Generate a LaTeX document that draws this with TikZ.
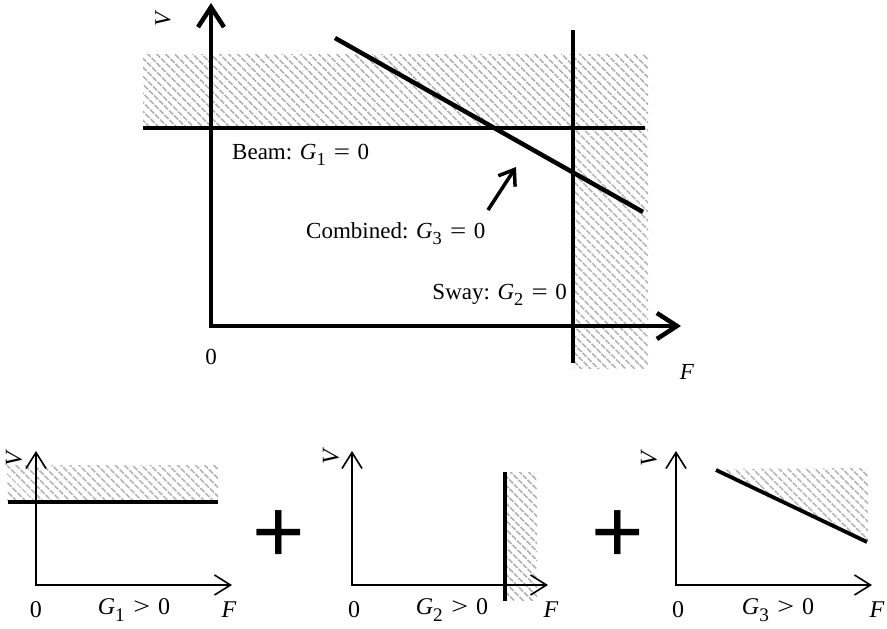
\documentclass[tikz,border=0pt]{standalone}
\usepackage{fontspec}
\setmainfont{Liberation Serif}
\setsansfont{Liberation Sans}
\usepackage{graphicx}
\usetikzlibrary{arrows.meta,patterns.meta}
\newcommand\Gs[1]{\textit{G}\raisebox{-0.28em}{\scalebox{0.8}{#1}}}
\newcommand\rel[1]{\hspace{0.36em}\scalebox{1.25}[1]{#1}\hspace{0.32em}}
\begin{document}
\begin{tikzpicture}[x=1pt,y=-1pt,
  hatch/.style={pattern={Lines[angle=-45,distance=6.4pt,line width=2pt]},pattern color=gray!60},
  bigaxis/.style={line width=4.5pt,line join=miter,{Straight Barb[length=20pt,width=26pt]}-{Straight Barb[length=20pt,width=26pt]}},
  smallaxis/.style={line width=1.6pt,line join=miter,{Straight Barb[length=16pt,width=20pt]}-{Straight Barb[length=16pt,width=20pt]}},
  boundary/.style={line width=4.5pt},
  sboundary/.style={line width=3.8pt},
  ptr/.style={line width=3.5pt,-{Straight Barb[length=14pt,width=20pt]}},
  lbl/.style={font=\fontsize{23}{27}\selectfont,inner sep=0pt},
  slbl/.style={font=\fontsize{24}{28}\selectfont,inner sep=0pt},
  plus/.style={font=\fontsize{90}{90}\selectfont\sffamily,inner sep=0pt}]
\useasboundingbox (0,0) rectangle (887,629);
% ---------- top diagram ----------
\fill[hatch] (143,54) rectangle (648,128);
\fill[hatch] (573,128) rectangle (648,368);
\coordinate (O) at (211,326);
\coordinate (Yt) at (211,3);
\coordinate (Xt) at (681,326);
\draw[bigaxis] (Yt) -- (O) -- (Xt);
\coordinate (b1) at (143,128); \coordinate (b2) at (645,128);
\draw[boundary] (b1) -- (b2);
\coordinate (s1) at (573,30); \coordinate (s2) at (573,363);
\draw[boundary] (s1) -- (s2);
\coordinate (c1) at (335,38); \coordinate (c2) at (643,212);
\draw[boundary] (c1) -- (c2);
\coordinate (p1) at (488,210); \coordinate (p2) at (516,167);
\draw[ptr] (p1) -- (p2);
\node[lbl,anchor=base west] (beam) at (232,159) {Beam: \Gs{1}\rel{=}0};
\node[lbl,anchor=base west] (comb) at (306,238) {Combined: \Gs{3}\rel{=}0};
\node[lbl,anchor=base east] (sway) at (567,299) {Sway: \Gs{2}\rel{=}0};
\node[lbl] (zero) at (211,357) {0};
\node[lbl] (F) at (687,372) {\textit{F}};
\node[lbl,rotate=90] (V) at (163,18) {\textit{V}};
% ---------- panel 1 ----------
\fill[hatch] (7,465) rectangle (218,502);
\coordinate (O1) at (36,585); \coordinate (Y1) at (36,451); \coordinate (X1) at (232,585);
\draw[smallaxis] (Y1) -- (O1) -- (X1);
\coordinate (h1) at (8,502); \coordinate (h2) at (218,502);
\draw[sboundary] (h1) -- (h2);
\node[slbl,rotate=90] (V1) at (14,458) {\textit{V}};
\node[slbl] (z1) at (36,610) {0};
\node[slbl] (g1) at (134,610) {\Gs{1}\rel{>}0};
\node[slbl] (F1) at (229,610) {\textit{F}};
% plus
\node[plus,anchor=base] (plusA) at (279,562) {+};
% ---------- panel 2 ----------
\fill[hatch] (505,472) rectangle (537,600);
\coordinate (O2) at (352,585); \coordinate (Y2) at (352,451); \coordinate (X2) at (548,585);
\draw[smallaxis] (Y2) -- (O2) -- (X2);
\coordinate (v1) at (505,472); \coordinate (v2) at (505,601);
\draw[sboundary] (v1) -- (v2);
\node[slbl,rotate=90] (V2) at (331,456) {\textit{V}};
\node[slbl] (z2) at (354,610) {0};
\node[slbl] (g2) at (452,610) {\Gs{2}\rel{>}0};
\node[slbl] (F2) at (551,610) {\textit{F}};
\node[plus,anchor=base] (plusB) at (618,562) {+};
% ---------- panel 3 ----------
\fill[hatch] (716,469) -- (868,468) -- (868,542) -- cycle;
\coordinate (O3) at (676,585); \coordinate (Y3) at (676,451); \coordinate (X3) at (872,585);
\draw[smallaxis] (Y3) -- (O3) -- (X3);
\coordinate (d1) at (716,470); \coordinate (d2) at (867,542);
\draw[sboundary] (d1) -- (d2);
\node[slbl,rotate=90] (V3) at (649,458) {\textit{V}};
\node[slbl] (z3) at (678,610) {0};
\node[slbl] (g3) at (778,610) {\Gs{3}\rel{>}0};
\node[slbl] (F3) at (877,610) {\textit{F}};
\end{tikzpicture}
\end{document}
